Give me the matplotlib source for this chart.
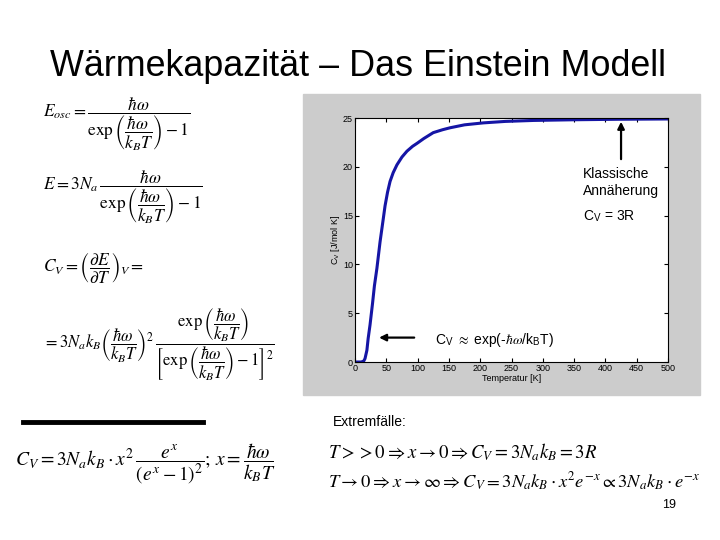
import matplotlib
matplotlib.use('Agg')
import matplotlib.pyplot as plt
from matplotlib.patches import Rectangle

plt.rcParams['mathtext.fontset'] = 'stix'
plt.rcParams['font.family'] = ['Liberation Sans', 'DejaVu Sans']

# values
temp = [0, 10, 14, 16, 19, 21, 24, 28, 31, 35, 40, 45, 48, 52, 56, 61, 67, 75, 83, 92,
        99, 110, 125, 140, 152, 175, 205, 240, 285, 350, 420, 500]
cv = [0, 0, 0.1, 0.35, 1.2, 2.4, 3.8, 6.0, 7.8, 9.6, 12.3, 14.6, 16.0, 17.4, 18.5, 19.4,
      20.2, 21.0, 21.6, 22.1, 22.4, 22.9, 23.5, 23.8, 24.0, 24.3, 24.5, 24.65, 24.75,
      24.82, 24.87, 24.9]
xticks = list(range(0, 501, 50))
yticks = [0, 5, 10, 15, 20, 25]

W, H = 720, 540
fig = plt.figure(figsize=(7.2, 5.4), dpi=100)

def px(x, y):
    # pixel position -> figure fraction
    return x / W, 1 - y / H

fig.text(*px(358, 67), 'Wärmekapazität – Das Einstein Modell', fontsize=25.8,
         ha='center', va='center')

# gray box behind the matlab plot
x0, y0 = px(303, 395)
fig.patches.append(Rectangle((x0, y0), (700 - 303) / W, (395 - 94) / H,
                             transform=fig.transFigure, color='#cccccc', zorder=-1))

l, b = px(355, 362)
ax = fig.add_axes([l, b, (668 - 355) / W, (362 - 118) / H])
ax.set_zorder(2)
ax.plot(temp, cv, color='#1515a5', lw=2.2)
ax.set_xlim(0, 500)
ax.set_ylim(0, 25)
ax.set_xticks(xticks)
ax.set_yticks(yticks)
ax.tick_params(direction='in', top=True, right=True, labelsize=6.5, length=3, pad=1.5)
for s in ax.spines.values():
    s.set_linewidth(0.8)
ax.set_xlabel('Temperatur [K]', fontsize=6.5, labelpad=1)
ax.set_ylabel(r'C$_\mathregular{V}$ [J/mol K]', fontsize=6.5, labelpad=1)

ax.annotate('', xy=(425, 24.9), xytext=(425, 20.5),
            arrowprops=dict(arrowstyle='-|>', color='black', lw=1.6, mutation_scale=10))
ax.text(364, 18.4, 'Klassische\nAnnäherung', fontsize=10, va='center', linespacing=1.25)
ax.text(364, 15.0, r'C$_\mathregular{V}$ = 3R', fontsize=10, va='center')
ax.annotate('', xy=(34, 2.5), xytext=(99, 2.5),
            arrowprops=dict(arrowstyle='-|>', color='black', lw=1.6, mutation_scale=10))
ax.text(128, 2.25, r'C$_\mathregular{V}$ $\approx$ exp(-$\hbar\omega$/k$_\mathregular{B}$T)',
        fontsize=10, va='center')

fs = 12.5
fig.text(*px(43, 124), r'$E_{osc} = \dfrac{\hbar\omega}{\exp\left(\dfrac{\hbar\omega}{k_BT}\right)-1}$',
         fontsize=fs, va='center')
fig.text(*px(43, 197), r'$E = 3N_a\,\dfrac{\hbar\omega}{\exp\left(\dfrac{\hbar\omega}{k_BT}\right)-1}$',
         fontsize=fs, va='center')
fig.text(*px(43, 268), r'$C_V = \left(\dfrac{\partial E}{\partial T}\right)_V =$',
         fontsize=fs, va='center')
fig.text(*px(43, 345), r'$= 3N_ak_B\left(\dfrac{\hbar\omega}{k_BT}\right)^2\,'
         r'\dfrac{\exp\left(\dfrac{\hbar\omega}{k_BT}\right)}'
         r'{\left[\exp\left(\dfrac{\hbar\omega}{k_BT}\right)-1\right]^2}$',
         fontsize=12, va='center')

fig.lines.append(plt.Line2D([23 / W, 203 / W], [1 - 422 / H, 1 - 422 / H],
                            transform=fig.transFigure, color='black', lw=3.5))
fig.text(*px(15, 464), r'$C_V = 3N_ak_B\cdot x^2\,\dfrac{e^x}{\left(e^x-1\right)^2};\, x = \dfrac{\hbar\omega}{k_BT}$',
         fontsize=14, va='center')

fig.text(*px(333, 422), 'Extremfälle:', fontsize=10, va='center')
fig.text(*px(328, 452), r'$T >> 0 \Rightarrow x \rightarrow 0 \Rightarrow C_V = 3N_ak_B = 3R$',
         fontsize=13.5, va='center')
fig.text(*px(328, 482), r'$T \rightarrow 0 \Rightarrow x \rightarrow \infty \Rightarrow C_V = 3N_ak_B\cdot x^2e^{-x} \propto 3N_ak_B\cdot e^{-x}$',
         fontsize=13.3, va='center')
fig.text(*px(676, 505), '19', fontsize=9, ha='right', va='center')

fig.savefig('out.png', dpi=100)
